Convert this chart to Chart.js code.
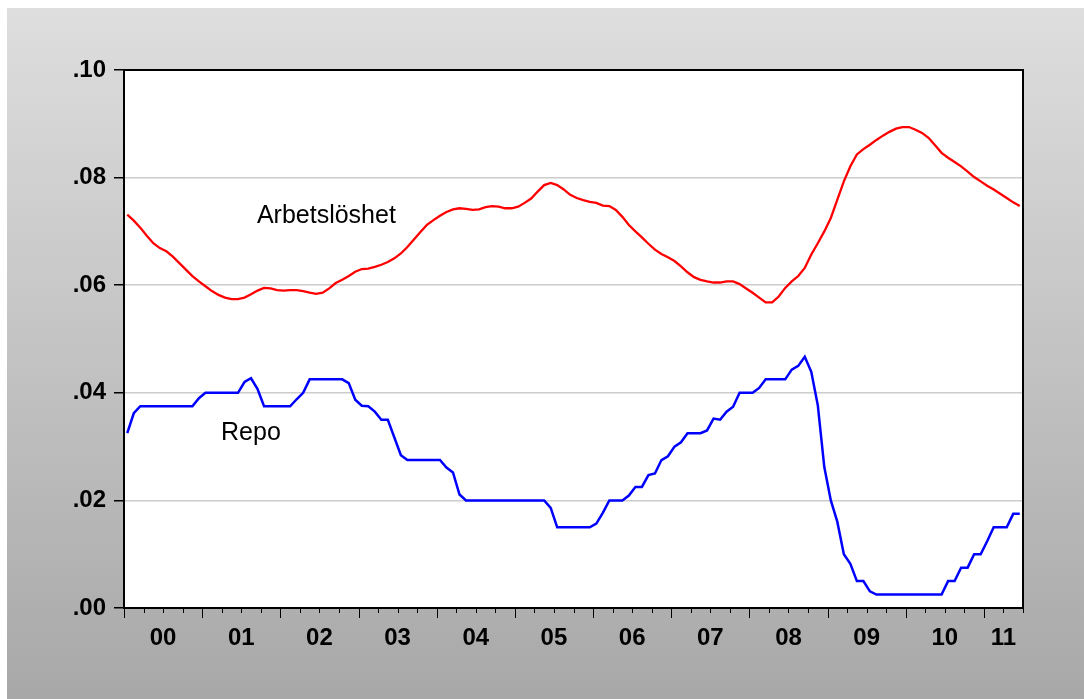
<!DOCTYPE html>
<html>
	<head>
	<meta charset="UTF-8">
	<title>Arbetsloshet och repo</title>
		<script src="https://cdn.jsdelivr.net/npm/chart.js@4.4.1/dist/chart.umd.min.js"></script>
		<style>
			body { margin: 0; background: #ffffff; }
			canvas { display: block; }
		</style>
	</head>
	<body>
		<canvas id="myChart" width="1084" height="699"></canvas>

		<script>
			// monthly data, 2000M01 - 2011M06
			const startYear = 2000;
			const yearLabels = ['00', '01', '02', '03', '04', '05', '06', '07', '08', '09', '10', '11'];

			const arbetsloshet = [
				0.0731, 0.0720, 0.0707, 0.0692, 0.0678, 0.0669, 0.0663, 0.0653, 0.0641, 0.0629, 0.0617, 0.0607,
				0.0598, 0.0589, 0.0582, 0.0577, 0.0574, 0.0574, 0.0577, 0.0583, 0.0590, 0.0595, 0.0594, 0.0591,
				0.0590, 0.0591, 0.0591, 0.0589, 0.0586, 0.0584, 0.0586, 0.0594, 0.0604, 0.0610, 0.0617, 0.0625,
				0.0630, 0.0631, 0.0634, 0.0638, 0.0643, 0.0650, 0.0659, 0.0671, 0.0685, 0.0699, 0.0712, 0.0721,
				0.0729, 0.0736, 0.0741, 0.0743, 0.0742, 0.0740, 0.0741, 0.0745, 0.0747, 0.0746, 0.0743, 0.0743,
				0.0746, 0.0753, 0.0761, 0.0774, 0.0786, 0.0790, 0.0786, 0.0778, 0.0768, 0.0762, 0.0758, 0.0755,
				0.0753, 0.0748, 0.0747, 0.0740, 0.0727, 0.0712, 0.0700, 0.0689, 0.0677, 0.0666, 0.0658, 0.0652,
				0.0645, 0.0635, 0.0624, 0.0615, 0.0610, 0.0607, 0.0605, 0.0605, 0.0607, 0.0607, 0.0602, 0.0594,
				0.0586, 0.0577, 0.0568, 0.0568, 0.0579, 0.0595, 0.0607, 0.0617, 0.0632, 0.0657, 0.0678, 0.0700,
				0.0725, 0.0759, 0.0793, 0.0821, 0.0843, 0.0853, 0.0861, 0.0870, 0.0878, 0.0885, 0.0891, 0.0894,
				0.0894, 0.0889, 0.0883, 0.0874, 0.0860, 0.0846, 0.0837, 0.0829, 0.0821, 0.0811, 0.0801, 0.0793,
				0.0785, 0.0778, 0.0770, 0.0762, 0.0754, 0.0747
			];

			const repo = [
				0.0325, 0.0362, 0.0375, 0.0375, 0.0375, 0.0375, 0.0375, 0.0375, 0.0375, 0.0375, 0.0375, 0.0390,
				0.0400, 0.0400, 0.0400, 0.0400, 0.0400, 0.0400, 0.0420, 0.0427, 0.0407, 0.0375, 0.0375, 0.0375,
				0.0375, 0.0375, 0.0388, 0.0400, 0.0425, 0.0425, 0.0425, 0.0425, 0.0425, 0.0425, 0.0418, 0.0387,
				0.0376, 0.0375, 0.0365, 0.0350, 0.0350, 0.0317, 0.0284, 0.0275, 0.0275, 0.0275, 0.0275, 0.0275,
				0.0275, 0.0261, 0.0252, 0.0211, 0.0200, 0.0200, 0.0200, 0.0200, 0.0200, 0.0200, 0.0200, 0.0200,
				0.0200, 0.0200, 0.0200, 0.0200, 0.0200, 0.0186, 0.0150, 0.0150, 0.0150, 0.0150, 0.0150, 0.0150,
				0.0157, 0.0177, 0.0200, 0.0200, 0.0200, 0.0209, 0.0225, 0.0225, 0.0247, 0.0250, 0.0275, 0.0282,
				0.0300, 0.0308, 0.0325, 0.0325, 0.0325, 0.0330, 0.0352, 0.0350, 0.0365, 0.0374, 0.0400, 0.0400,
				0.0400, 0.0409, 0.0425, 0.0425, 0.0425, 0.0425, 0.0443, 0.0450, 0.0467, 0.0439, 0.0377, 0.0262,
				0.0200, 0.0160, 0.0100, 0.0082, 0.0050, 0.0050, 0.0031, 0.0025, 0.0025, 0.0025, 0.0025, 0.0025,
				0.0025, 0.0025, 0.0025, 0.0025, 0.0025, 0.0025, 0.0050, 0.0050, 0.0075, 0.0075, 0.0100, 0.0100,
				0.0124, 0.0150, 0.0150, 0.0150, 0.0175, 0.0175
			];

			const yTicks = [0, 0.02, 0.04, 0.06, 0.08, 0.10];
			const yTickLabels = ['.00', '.02', '.04', '.06', '.08', '.10'];

			// where the series names sit, in data units (month index, value)
			const notes = [
				{ text: 'Arbetslöshet', x: 20.4, y: 0.0729 },
				{ text: 'Repo', x: 14.9, y: 0.0325 }
			];

			const nMonths = arbetsloshet.length;

			function toPoints(arr) {
				// each month is drawn at the middle of its slot
				return arr.map(function (v, i) { return { x: i + 0.5, y: v }; });
			}

			const backdrop = {
				id: 'backdrop',
				beforeDraw: function (chart) {
					const c = chart.ctx;
					const w = chart.width, h = chart.height;
					c.save();
					c.fillStyle = '#ffffff';
					c.fillRect(0, 0, w, h);
					let g = c.createLinearGradient(0, 8, 0, h);
					g.addColorStop(0, '#dedede');
					g.addColorStop(1, '#a8a8a8');
					c.fillStyle = g;
					c.fillRect(7, 8, w - 7, h - 8);
					const a = chart.chartArea;
					c.fillStyle = '#ffffff';
					c.fillRect(a.left, a.top, a.right - a.left, a.bottom - a.top);
					c.restore();
				},
				afterDraw: function (chart) {
					const c = chart.ctx;
					const a = chart.chartArea;
					const xs = chart.scales.x;
					c.save();
					// quarterly tick marks, longer ones at each new year
					c.strokeStyle = '#000000';
					c.lineWidth = 1;
					for (let m = 0; m <= nMonths; m += 3) {
						const px = Math.round(xs.getPixelForValue(m)) + 0.5;
						const len = (m % 12 == 0) ? 10 : 5;
						c.beginPath();
						c.moveTo(px, a.bottom);
						c.lineTo(px, a.bottom + len);
						c.stroke();
					}
					// frame
					c.lineWidth = 2;
					c.strokeStyle = '#000000';
					c.strokeRect(a.left, a.top, a.right - a.left, a.bottom - a.top);
					c.restore();
				},
				afterDatasetsDraw: function (chart) {
					const c = chart.ctx;
					c.save();
					c.font = '25px Arial, "Liberation Sans", sans-serif';
					c.fillStyle = '#000000';
					c.textAlign = 'left';
					c.textBaseline = 'middle';
					for (let k = 0; k < notes.length; k++) {
						c.fillText(notes[k].text,
							chart.scales.x.getPixelForValue(notes[k].x),
							chart.scales.y.getPixelForValue(notes[k].y));
					}
					c.restore();
				}
			};

			let ctx = document.getElementById('myChart').getContext('2d');
			let myChart = new Chart(ctx, {
				type: 'line',
				data: {
					datasets: [{
						label: 'Arbetslöshet',
						data: toPoints(arbetsloshet),
						borderColor: '#ff0000',
						borderWidth: 2.3,
						pointRadius: 0,
						tension: 0,
						fill: false
					}, {
						label: 'Repo',
						data: toPoints(repo),
						borderColor: '#0000ff',
						borderWidth: 2.5,
						pointRadius: 0,
						tension: 0,
						fill: false
					}]
				},
				plugins: [backdrop],
				options: {
					responsive: false,
					animation: false,
					layout: {
						padding: { top: 70, right: 61, bottom: 0, left: 0 }
					},
					plugins: {
						legend: { display: false },
						tooltip: { enabled: false }
					},
					scales: {
						x: {
							type: 'linear',
							min: 0,
							max: nMonths,
							afterBuildTicks: function (scale) {
								scale.ticks = yearLabels.map(function (l, k) {
									const s = k * 12;
									return { value: (s + Math.min(s + 12, nMonths)) / 2 };
								});
							},
							afterFit: function (scale) { scale.height = 91; },
							grid: { display: false, drawTicks: false },
							border: { display: false },
							ticks: {
								autoSkip: false,
								maxRotation: 0,
								padding: 16,
								color: '#000000',
								font: { family: 'Arial, "Liberation Sans", sans-serif', size: 24, weight: 'bold' },
								callback: function (value, index) { return yearLabels[index]; }
							}
						},
						y: {
							min: 0,
							max: 0.10,
							afterBuildTicks: function (scale) {
								scale.ticks = yTicks.map(function (v) { return { value: v }; });
							},
							afterFit: function (scale) { scale.width = 124; },
							grid: {
								color: function (c) {
									return (c.index == 0 || c.index == yTicks.length - 1) ? 'rgba(0,0,0,0)' : '#cccccc';
								},
								lineWidth: 1.5,
								drawTicks: true,
								tickLength: 10,
								tickColor: '#000000'
							},
							border: { display: false },
							ticks: {
								padding: 8,
								color: '#000000',
								font: { family: 'Arial, "Liberation Sans", sans-serif', size: 24, weight: 'bold' },
								callback: function (value, index) { return yTickLabels[index]; }
							}
						}
					}
				}
			});
		</script>
	</body>
</html>
